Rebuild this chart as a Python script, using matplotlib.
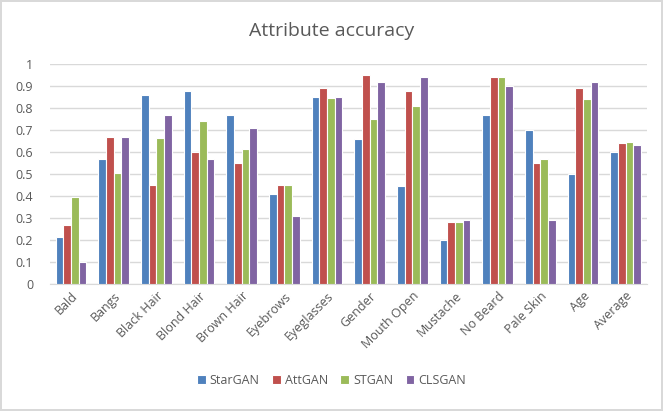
import matplotlib
matplotlib.use("Agg")
import matplotlib.pyplot as plt
import numpy as np

plt.rcParams['font.family'] = ['Open Sans', 'DejaVu Sans']

categories = ['Bald', 'Bangs', 'Black Hair', 'Blond Hair', 'Brown Hair', 'Eyebrows',
              'Eyeglasses', 'Gender', 'Mouth Open', 'Mustache', 'No Beard',
              'Pale Skin', 'Age', 'Average']
stargan = [0.215, 0.57, 0.86, 0.88, 0.77, 0.41, 0.85, 0.66, 0.445, 0.20, 0.77, 0.70, 0.50, 0.60]
attgan = [0.27, 0.67, 0.45, 0.60, 0.55, 0.45, 0.89, 0.95, 0.88, 0.28, 0.94, 0.55, 0.89, 0.64]
stgan = [0.395, 0.505, 0.665, 0.74, 0.615, 0.45, 0.845, 0.75, 0.81, 0.28, 0.94, 0.57, 0.84, 0.645]
clsgan = [0.10, 0.67, 0.77, 0.57, 0.71, 0.31, 0.85, 0.92, 0.94, 0.29, 0.90, 0.29, 0.92, 0.63]
series = ['StarGAN', 'AttGAN', 'STGAN', 'CLSGAN']
colors = ['#4F81BD', '#C0504D', '#9BBB59', '#8064A2']
yticks = [0, 0.1, 0.2, 0.3, 0.4, 0.5, 0.6, 0.7, 0.8, 0.9, 1]

fig = plt.figure(figsize=(6.63, 4.11), dpi=100)
fig.patch.set_edgecolor('#D9D9D9')
fig.patch.set_linewidth(1.5)
ax = fig.add_axes([0.075, 0.309, 0.901, 0.535])

x = np.arange(len(categories))
w = 0.18
for i, (name, vals) in enumerate(zip(series, [stargan, attgan, stgan, clsgan])):
    ax.bar(x + (i - 1.5) * w, vals, w, color=colors[i], edgecolor='white',
           linewidth=0.8, label=name, zorder=3)

ax.set_xlim(-0.5, len(categories) - 0.5)
ax.set_ylim(0, 1)
ax.set_yticks(yticks)
ax.set_yticklabels([f'{t:g}' for t in yticks])
ax.set_xticks(x)
ax.set_xticklabels(categories, rotation=45, ha='right', rotation_mode='anchor')
ax.grid(axis='y', color='#D9D9D9', linewidth=1, zorder=0)
for s in ['top', 'right', 'left']:
    ax.spines[s].set_visible(False)
ax.spines['bottom'].set_color('#D9D9D9')
ax.tick_params(axis='both', length=0, colors='#595959', labelsize=9)
ax.tick_params(axis='y', pad=12)
ax.tick_params(axis='x', pad=4)

fig.text(0.5, 0.925, 'Attribute accuracy', ha='center', va='center',
         fontsize=14, color='#595959')
fig.legend(loc='center', bbox_to_anchor=(0.5, 0.075), ncol=4, frameon=False,
           fontsize=9, handlelength=0.7, handleheight=0.7, handletextpad=0.3,
           columnspacing=1.0, labelcolor='#595959')

fig.savefig('out.png', dpi=100)
